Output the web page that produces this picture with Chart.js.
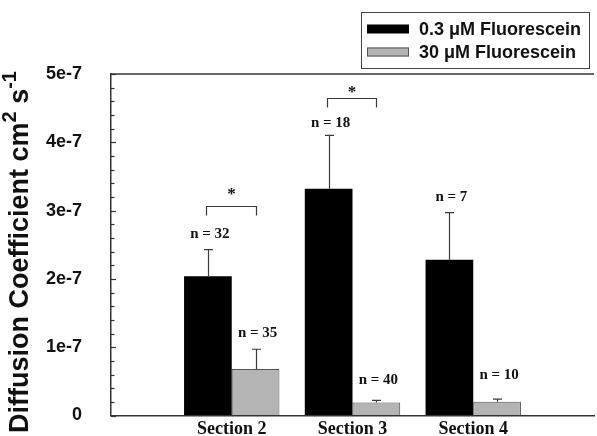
<!DOCTYPE html>
<html>
<head>
<meta charset="utf-8">
<script src="https://cdn.jsdelivr.net/npm/chart.js@4"></script>
<style>
html,body{margin:0;padding:0;background:#fff;}
canvas{display:block;}
</style>
</head>
<body>
<canvas id="c" width="597" height="436"></canvas>
<script>
const categories = ['Section 2', 'Section 3', 'Section 4'];
const xLabels = ['', ...categories, ''];
const seriesNames = ['0.3 \u03bcM Fluorescein', '30 \u03bcM Fluorescein'];
const lowConc = [2.04e-7, 3.32e-7, 2.28e-7];
const lowConcErr = [0.39e-7, 0.78e-7, 0.69e-7];
const highConc = [0.68e-7, 0.19e-7, 0.20e-7];
const highConcErr = [0.29e-7, 0.03e-7, 0.04e-7];
const lowConcN = [32, 18, 7];
const highConcN = [35, 40, 10];
const lowNLabelAt = [2.65e-7, 4.28e-7, 3.20e-7];
const highNLabelAt = [1.21e-7, 0.52e-7, 0.59e-7];
const sigSections = ['Section 2', 'Section 3'];
const sigBracketAt = [3.07e-7, 4.65e-7];
const sigStarAt = [3.30e-7, 4.78e-7];
const yTicks = [0, 1e-7, 2e-7, 3e-7, 4e-7, 5e-7];
const yTickLabels = ['0', '1e-7', '2e-7', '3e-7', '4e-7', '5e-7'];
const yMinorStep = 0.2e-7;

const SERIF = '"Liberation Serif", "Times New Roman", serif';
const SANS = '"Liberation Sans", Arial, sans-serif';

const pad = arr => [null, ...arr, null];

const annot = {
  id: 'annot',
  afterDatasetsDraw(chart) {
    const ctx = chart.ctx;
    const ys = chart.scales.y;
    ctx.save();
    // error bars
    const sets = [[0, lowConc, lowConcErr], [1, highConc, highConcErr]];
    ctx.strokeStyle = '#3a3a3a';
    ctx.lineWidth = 1.2;
    sets.forEach(([di, vals, errs]) => {
      const meta = chart.getDatasetMeta(di);
      vals.forEach((v, i) => {
        const bar = meta.data[i + 1];
        const x = Math.round(bar.x) + 0.5;
        const y0 = ys.getPixelForValue(v);
        const y1 = ys.getPixelForValue(v + errs[i]);
        ctx.beginPath();
        ctx.moveTo(x, y0);
        ctx.lineTo(x, y1);
        ctx.moveTo(x - 4.5, y1);
        ctx.lineTo(x + 4.5, y1);
        ctx.stroke();
      });
    });
    // n labels
    ctx.fillStyle = '#111';
    ctx.font = 'bold 15px ' + SERIF;
    ctx.textAlign = 'center';
    ctx.textBaseline = 'middle';
    const nsets = [[0, lowConcN, lowNLabelAt], [1, highConcN, highNLabelAt]];
    nsets.forEach(([di, ns, at]) => {
      const meta = chart.getDatasetMeta(di);
      ns.forEach((n, i) => {
        const bar = meta.data[i + 1];
        ctx.fillText('n = ' + n, bar.x + 2, ys.getPixelForValue(at[i]));
      });
    });
    // significance brackets
    ctx.strokeStyle = '#3a3a3a';
    ctx.lineWidth = 1.2;
    sigSections.forEach((s, k) => {
      const idx = xLabels.indexOf(s);
      const b0 = chart.getDatasetMeta(0).data[idx];
      const b1 = chart.getDatasetMeta(1).data[idx];
      const yb = Math.round(ys.getPixelForValue(sigBracketAt[k])) + 0.5;
      const xa = Math.round(b0.x) - 1.5, xb = Math.round(b1.x) + 0.5;
      ctx.beginPath();
      ctx.moveTo(xa, yb + 9);
      ctx.lineTo(xa, yb);
      ctx.lineTo(xb, yb);
      ctx.lineTo(xb, yb + 9);
      ctx.stroke();
      ctx.font = 'bold 17px ' + SERIF;
      ctx.fillText('*', (xa + xb) / 2, ys.getPixelForValue(sigStarAt[k]) + 4);
    });
    ctx.restore();
  },
  afterDraw(chart) {
    const ctx = chart.ctx;
    const ys = chart.scales.y;
    const area = chart.chartArea;
    ctx.save();
    // top frame line
    ctx.strokeStyle = '#333';
    ctx.lineWidth = 1.5;
    ctx.beginPath();
    ctx.moveTo(area.left, area.top);
    ctx.lineTo(area.right, area.top);
    ctx.stroke();
    // inner ticks
    ctx.lineWidth = 1.2;
    const nMinor = Math.round((ys.max - ys.min) / yMinorStep);
    for (let k = 0; k <= nMinor; k++) {
      const v = ys.min + k * yMinorStep;
      const y = Math.round(ys.getPixelForValue(v)) + 0.5;
      const major = k % 5 === 0;
      ctx.beginPath();
      ctx.moveTo(area.left, y);
      ctx.lineTo(area.left + (major ? 5 : 3.5), y);
      ctx.stroke();
    }
    // y axis title with superscripts
    ctx.translate(28, 433);
    ctx.rotate(-Math.PI / 2);
    ctx.fillStyle = '#111';
    ctx.textAlign = 'left';
    ctx.textBaseline = 'alphabetic';
    const big = 'bold 27px ' + SANS, small = 'bold 20px ' + SANS;
    const parts = [['Diffusion Coefficient cm', big, 0], ['2', small, -12], [' s', big, 0], ['-1', small, -12]];
    let x = 0;
    parts.forEach(([t, f, dy]) => {
      ctx.font = f;
      ctx.fillText(t, x, dy);
      x += ctx.measureText(t).width;
    });
    ctx.restore();
    // legend
    ctx.save();
    ctx.strokeStyle = '#444';
    ctx.lineWidth = 1;
    ctx.strokeRect(361.5, 12.5, 228, 56);
    const ds = chart.data.datasets;
    const rows = [29, 52];
    ds.forEach((d, i) => {
      ctx.fillStyle = d.backgroundColor;
      ctx.fillRect(367, rows[i] - 4.5, 42, 9);
      if (d.borderWidth) {
        ctx.strokeStyle = d.borderColor;
        ctx.lineWidth = 1;
        ctx.strokeRect(367.5, rows[i] - 4, 41, 8);
      }
      ctx.fillStyle = '#111';
      ctx.font = 'bold 18px ' + SANS;
      ctx.textAlign = 'left';
      ctx.textBaseline = 'middle';
      ctx.fillText(seriesNames[i], 419, rows[i] + 1);
    });
    ctx.restore();
  }
};

new Chart(document.getElementById('c'), {
  type: 'bar',
  data: {
    labels: xLabels,
    datasets: [
      { label: seriesNames[0], data: pad(lowConc), backgroundColor: '#000000', borderWidth: 0,
        categoryPercentage: 0.79, barPercentage: 1 },
      { label: seriesNames[1], data: pad(highConc), backgroundColor: '#b4b4b4', borderColor: '#555555', borderWidth: 1,
        categoryPercentage: 0.79, barPercentage: 1 }
    ]
  },
  options: {
    responsive: false,
    animation: false,
    devicePixelRatio: 1,
    layout: { padding: { top: 74, left: 0, right: 0, bottom: 0 } },
    plugins: { legend: { display: false }, tooltip: { enabled: false } },
    scales: {
      x: {
        offset: false,
        grid: { display: false, drawTicks: false },
        border: { display: true, color: '#333', width: 1.5 },
        ticks: { color: '#111', font: { family: SERIF, size: 18, weight: 'bold' }, padding: 3, maxRotation: 0, autoSkip: false },
        afterFit(s) { s.height = 20.5; }
      },
      y: {
        min: 0,
        max: 5e-7,
        grid: { display: true, drawOnChartArea: false, drawTicks: true, tickLength: 29, tickColor: 'rgba(0,0,0,0)' },
        border: { display: true, color: '#333', width: 1.5 },
        ticks: {
          stepSize: 1e-7,
          color: '#111',
          padding: 0,
          font: { family: SANS, size: 18, weight: 'bold' },
          callback: (v, i) => yTickLabels[i]
        },
        afterFit(s) { s.width = 111; }
      }
    }
  },
  plugins: [annot]
});
</script>
</body>
</html>
